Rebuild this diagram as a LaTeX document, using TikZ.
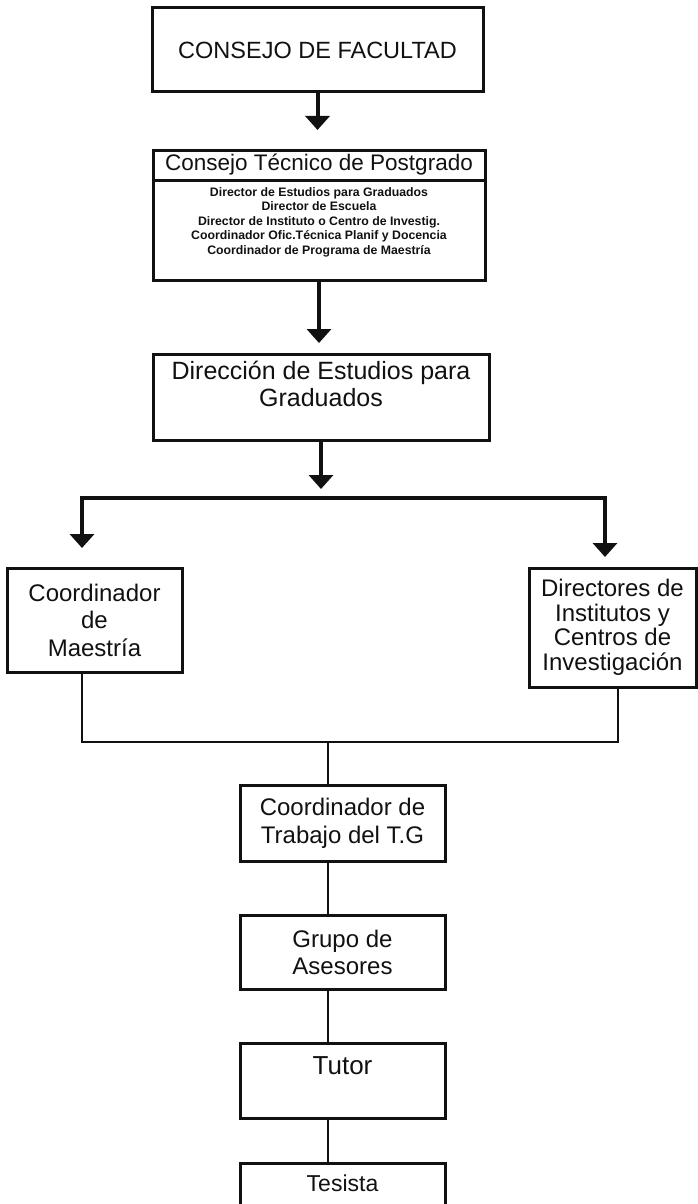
\documentclass[tikz,border=0pt]{standalone}
\usepackage{fontspec}
\setmainfont{Liberation Sans}
\usetikzlibrary{arrows.meta, positioning}
\definecolor{tinta}{HTML}{111111}
\tikzset{
  caja/.style={rectangle, draw=tinta, line width=3pt, text=tinta,
    align=center, inner sep=1pt, outer sep=0pt,
    font=\fontsize{24}{27}\selectfont},
  cajachica/.style={caja, font=\fontsize{12.3}{14.5}\selectfont\bfseries},
  flecha/.style={-{Triangle[width=24pt, length=14pt]}, line width=4pt, color=tinta},
  linea/.style={line width=1.4pt, color=tinta}
}

\begin{document}
\begin{tikzpicture}[x=1pt, y=-1pt]
    \useasboundingbox (0,0) rectangle (698,1204);
    \clip (0,0) rectangle (698,1204);

    % columna superior
    \node[caja, minimum width=331pt, minimum height=84pt, font=\fontsize{23.5}{28}\selectfont] (facultad) at (317.5,50) {CONSEJO DE FACULTAD};
    \node[caja, minimum width=332pt, minimum height=30pt, font=\fontsize{22.5}{26}\selectfont] (tecnicotit) at (319,165) {Consejo Técnico de Postgrado};
    \node[cajachica, minimum width=332pt, minimum height=100pt, below=0pt of tecnicotit] (tecnicomiem) {Director de Estudios para Graduados\\ Director de Escuela\\ Director de Instituto o Centro de Investig.\\ Coordinador Ofic.Técnica Planif y Docencia\\ Coordinador de Programa de Maestría\\ \strut};
    \node[caja, minimum width=336pt, minimum height=86pt, font=\fontsize{25}{27}\selectfont] (direccion) at (321,397) {Dirección de Estudios para\\ Graduados\\ \mbox{}};

    % ramas
    \node[caja, minimum width=175pt, minimum height=104pt, font=\fontsize{24}{27.5}\selectfont] (maestria) at (94.5,620) {Coordinador\\ de\\ Maestría};
    \node[caja, minimum width=167pt, minimum height=119pt, font=\fontsize{24}{24.5}\selectfont] (institutos) at (612.5,627.5) {Directores de\\ Institutos y\\ Centros de\\ Investigación};

    % columna inferior
    \node[caja, minimum width=205pt, minimum height=76pt, font=\fontsize{24}{28}\selectfont] (coordtg) at (342.5,823) {Coordinador de\\ Trabajo del T.G};
    \node[caja, minimum width=205pt, minimum height=74pt] (asesores) at (342.5,952) {Grupo de\\ Asesores};
    \node[caja, minimum width=205pt, minimum height=75pt, font=\fontsize{26}{30}\selectfont] (tutor) at (342.5,1080.5) {Tutor\\ \mbox{}};
    \node[caja, minimum width=205pt, minimum height=75pt, font=\fontsize{23}{27}\selectfont] (tesista) at (342.5,1200.5) {Tesista\\ \strut};

    \coordinate (reparto) at (319,498);
    \coordinate (izq) at (82,498);
    \coordinate (der) at (605,498);
    \coordinate (union) at (328,742);
    \coordinate (uniondr) at (618,742);

    \draw[flecha, shorten >=20pt] (facultad.south) -- (facultad.south |- tecnicotit.north);
    \draw[flecha, shorten >=11pt] (tecnicomiem.south) -- (tecnicomiem.south |- direccion.north);
    \draw[flecha, shorten >=9pt] (direccion.south) -- (direccion.south |- reparto);
    \draw[flecha, shorten >=20pt] (reparto) -| (izq |- maestria.north);
    \draw[flecha, shorten >=11pt] (reparto) -| (der |- institutos.north);

    \draw[linea] (maestria.south -| izq) |- (uniondr) -- (uniondr |- institutos.south);
    \draw[linea] (union) -- (coordtg.north -| union);
    \foreach \arriba/\abajo in {coordtg/asesores, asesores/tutor, tutor/tesista}
      \draw[linea] (\arriba.south -| union) -- (\abajo.north -| union);
\end{tikzpicture}
\end{document}
